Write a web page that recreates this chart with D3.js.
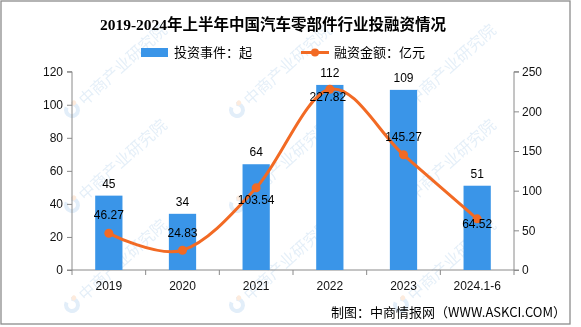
<!DOCTYPE html>
<html><head><meta charset="utf-8">
<script src="https://cdn.jsdelivr.net/npm/d3@7"></script>
<style>
html,body{margin:0;padding:0;background:#fff;}
svg{display:block;}
</style></head>
<body>
<script>
const categories = ["2019","2020","2021","2022","2023","2024.1-6"];
const events = [45, 34, 64, 112, 109, 51];
const amounts = [46.27, 24.83, 103.54, 227.82, 145.27, 64.52];
const leftTicks = [0, 20, 40, 60, 80, 100, 120];
const rightTicks = [0, 50, 100, 150, 200, 250];
const title = "2019-2024年上半年中国汽车零部件行业投融资情况";
const legendBar = "投资事件：起";
const legendLine = "融资金额：亿元";
const source = "制图：中商情报网（WWW.ASKCI.COM）";
const watermark = "中商产业研究院";

const W = 581, H = 327;
const barColor = "#3A95E8", lineColor = "#F26A24", axisColor = "#8a8a8a";
const cjk = "'Noto Sans CJK SC', sans-serif";
const num = "'Liberation Sans', Arial, sans-serif";

const svg = d3.select("body").append("svg").attr("width", W).attr("height", H);
svg.append("rect").attr("x",0).attr("y",0).attr("width",W).attr("height",H).attr("fill","#fff");

// watermarks
const wm = svg.append("g").attr("opacity", 0.16);
[72, 237, 401].forEach(wx => {
  [110, 205, 305].forEach(wy => {
    const g = wm.append("g").attr("transform", `translate(${wx},${wy}) rotate(-42)`);
    g.append("path").attr("d", d3.arc()({innerRadius:4, outerRadius:8, startAngle:0.6, endAngle:2*Math.PI-0.4}))
      .attr("fill", "#4a90d9");
    g.append("circle").attr("cx", 6).attr("cy", -4).attr("r", 2.5).attr("fill", "#f0832a");
    g.append("text").attr("x", 12).attr("y", 6).attr("font-family", cjk)
      .attr("font-size", 16).attr("fill", "#5b9bd5").text(watermark);
  });
});

// border
svg.append("rect").attr("x",1).attr("y",1).attr("width",569).attr("height",323)
  .attr("fill","none").attr("stroke","#8c8c8c").attr("stroke-width",1.3);

const x0 = 72, x1 = 514, yTop = 71.7, yBot = 270;
const x = d3.scaleBand().domain(categories).range([x0, x1]).padding(0);
const yL = d3.scaleLinear().domain([0, 120]).range([yBot, yTop]);
const yR = d3.scaleLinear().domain([0, 250]).range([yBot, yTop]);
const bw = x.bandwidth() * 0.37;
const cx = c => x(c) + x.bandwidth() / 2;

// axes
const axL = svg.append("g").attr("transform", `translate(${x0},0)`)
  .call(d3.axisLeft(yL).tickValues(leftTicks).tickSize(5).tickPadding(4));
const axR = svg.append("g").attr("transform", `translate(${x1},0)`)
  .call(d3.axisRight(yR).tickValues(rightTicks).tickSize(5).tickPadding(3));
[axL, axR].forEach(a => {
  a.select(".domain").attr("stroke", axisColor);
  a.selectAll(".tick line").attr("stroke", axisColor);
  a.selectAll("text").attr("font-family", num).attr("font-size", 12).attr("fill", "#111");
});
axL.select(".domain").attr("d", `M-5,${yTop}H0V${yBot}H-5`);
axR.select(".domain").attr("d", `M5,${yTop}H0V${yBot}H5`);

const axB = svg.append("g").attr("transform", `translate(0,${yBot})`);
axB.append("line").attr("x1", x0).attr("x2", x1).attr("stroke", axisColor);
const bounds = categories.map(c => x(c)).concat([x1]);
axB.selectAll("line.tk").data(bounds).join("line").attr("class","tk")
  .attr("x1", d => d).attr("x2", d => d).attr("y1", 0).attr("y2", 5).attr("stroke", axisColor);
axB.selectAll("text").data(categories).join("text")
  .attr("x", d => cx(d)).attr("y", 19.5).attr("text-anchor", "middle")
  .attr("font-family", num).attr("font-size", 12).attr("fill", "#111").text(d => d);

// bars
svg.selectAll("rect.bar").data(categories).join("rect").attr("class","bar")
  .attr("x", d => cx(d) - bw/2).attr("width", bw)
  .attr("y", (d,i) => yL(events[i])).attr("height", (d,i) => yBot - yL(events[i]))
  .attr("fill", barColor);
svg.selectAll("text.bv").data(categories).join("text").attr("class","bv")
  .attr("x", d => cx(d)).attr("y", (d,i) => yL(events[i]) - 8)
  .attr("text-anchor","middle").attr("font-family", num).attr("font-size", 12).attr("fill","#000")
  .text((d,i) => events[i]);

// line
const pts = categories.map((c,i) => [cx(c), yR(amounts[i])]);
svg.append("path").attr("d", d3.line().curve(d3.curveCardinal.tension(0))(pts))
  .attr("fill","none").attr("stroke", lineColor).attr("stroke-width", 3);
svg.selectAll("circle.pt").data(pts).join("circle").attr("class","pt")
  .attr("cx", d => d[0]).attr("cy", d => d[1]).attr("r", 4.5).attr("fill", lineColor);
const labelDy = [-18, -17, 12, 8, -18, 5];
svg.selectAll("text.lv").data(categories).join("text").attr("class","lv")
  .attr("x", (d,i) => cx(d) + (i === 3 ? -2 : 0)).attr("y", (d,i) => yR(amounts[i]) + labelDy[i] + 4)
  .attr("text-anchor","middle").attr("font-family", num).attr("font-size", 12).attr("fill","#000")
  .text((d,i) => amounts[i].toFixed(2));

// title
svg.append("text").attr("x", 273).attr("y", 30).attr("text-anchor","middle")
  .attr("font-family", "'Liberation Serif', 'Noto Sans CJK SC', serif").attr("font-weight","bold")
  .attr("font-size", 15.5).attr("fill","#000").text(title);

// legend
svg.append("rect").attr("x",141).attr("y",48).attr("width",27).attr("height",9).attr("fill", barColor);
svg.append("text").attr("x",174).attr("y",57).attr("font-family", cjk).attr("font-size",13).attr("fill","#000").text(legendBar);
svg.append("line").attr("x1",301).attr("x2",329).attr("y1",52.5).attr("y2",52.5).attr("stroke", lineColor).attr("stroke-width",3);
svg.append("circle").attr("cx",315).attr("cy",52.5).attr("r",4).attr("fill", lineColor);
svg.append("text").attr("x",334).attr("y",57).attr("font-family", cjk).attr("font-size",13).attr("fill","#000").text(legendLine);

// source
svg.append("text").attr("x",566).attr("y",317).attr("text-anchor","end")
  .attr("font-family", cjk).attr("font-size",13).attr("fill","#000").text(source);
</script>
</body></html>
